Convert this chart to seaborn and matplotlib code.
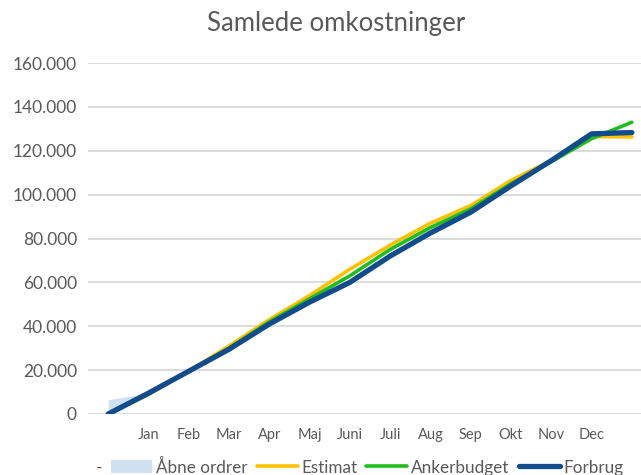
import matplotlib
matplotlib.use("Agg")
import matplotlib.pyplot as plt
import seaborn as sns
import numpy as np
import pandas as pd
from matplotlib.lines import Line2D
from matplotlib.patches import Patch

# ---- data ----
categories = ["", "Jan", "Feb", "Mar", "Apr", "Maj", "Juni", "Juli", "Aug", "Sep", "Okt", "Nov", "Dec", ""]
estimat = [0, 9000, 19500, 31000, 43000, 54000, 66000, 77000, 87000, 95000, 106500, 115500, 126500, 126300]
ankerbudget = [0, 9000, 19500, 30000, 42000, 52500, 63000, 75000, 85000, 93500, 105000, 115000, 125500, 133000]
forbrug = [0, 9500, 19500, 29500, 41000, 51000, 60000, 72000, 82500, 92000, 104000, 115500, 127700, 128300]
aabne_ordrer = [6500, 0]
yticks = [0, 20000, 40000, 60000, 80000, 100000, 120000, 140000, 160000]
ytick_labels = ["0", "20.000", "40.000", "60.000", "80.000", "100.000", "120.000", "140.000", "160.000"]
title = "Samlede omkostninger"
legend_labels = ["-", "Åbne ordrer", "Estimat", "Ankerbudget", "Forbrug"]

# ---- style ----
sns.set_theme(style="white")
plt.rcParams["font.family"] = ["Lato", "DejaVu Sans"]
grey = "#595959"
c_est = "#FFC000"
c_ank = "#22BB22"
c_for = "#124C8A"
c_area = "#CFE0F2"

W, H = 641, 475
fig = plt.figure(figsize=(W / 100, H / 100), dpi=100)
left, right = 88 / W, 652 / W
bottom, top = 1 - 414 / H, 1 - 63 / H
ax = fig.add_axes([left, bottom, right - left, top - bottom])

x = np.arange(len(categories))
df = pd.DataFrame({"x": x, "Estimat": estimat, "Ankerbudget": ankerbudget, "Forbrug": forbrug})

# open orders band stacked on top of Forbrug
n = len(aabne_ordrer)
base = np.array(forbrug[:n], dtype=float)
ax.fill_between(x[:n], base, base + np.array(aabne_ordrer), color=c_area, linewidth=0, zorder=1)

sns.lineplot(data=df, x="x", y="Estimat", ax=ax, color=c_est, linewidth=2.6, zorder=3)
sns.lineplot(data=df, x="x", y="Ankerbudget", ax=ax, color=c_ank, linewidth=2.6, zorder=4)
sns.lineplot(data=df, x="x", y="Forbrug", ax=ax, color=c_for, linewidth=3.8, zorder=5)

ax.set_xlim(-0.5, len(categories) - 0.5)
ax.set_ylim(0, 160000)
ax.set_yticks(yticks)
ax.set_yticklabels(ytick_labels, fontsize=12.5, color=grey)
ax.set_xticks(x)
ax.set_xticklabels(categories, fontsize=10.5, color=grey)
ax.set_xlabel("")
ax.set_ylabel("")
ax.tick_params(axis="y", length=0, pad=8)
ax.tick_params(axis="x", length=0, pad=10)
ax.yaxis.grid(True, color="#D9D9D9", linewidth=1.3)
ax.xaxis.grid(False)
ax.set_axisbelow(True)
for s in ax.spines.values():
    s.set_visible(False)

fig.text(336 / W, 1 - 23 / H, title, ha="center", va="center", fontsize=18.5, color=grey)

handles = [
    Line2D([], [], color="none"),
    Patch(facecolor=c_area, edgecolor="none"),
    Line2D([], [], color=c_est, linewidth=2.6),
    Line2D([], [], color=c_ank, linewidth=2.6),
    Line2D([], [], color=c_for, linewidth=3.8),
]
leg = fig.legend(handles, legend_labels, loc="center left", bbox_to_anchor=(51 / W, 1 - 467 / H),
                 ncol=5, frameon=False, fontsize=12.3, handlelength=2.4, handleheight=0.8,
                 handletextpad=0.2, columnspacing=0.55, borderpad=0, borderaxespad=0)
for t in leg.get_texts():
    t.set_color(grey)

fig.savefig("out.png", dpi=100)
